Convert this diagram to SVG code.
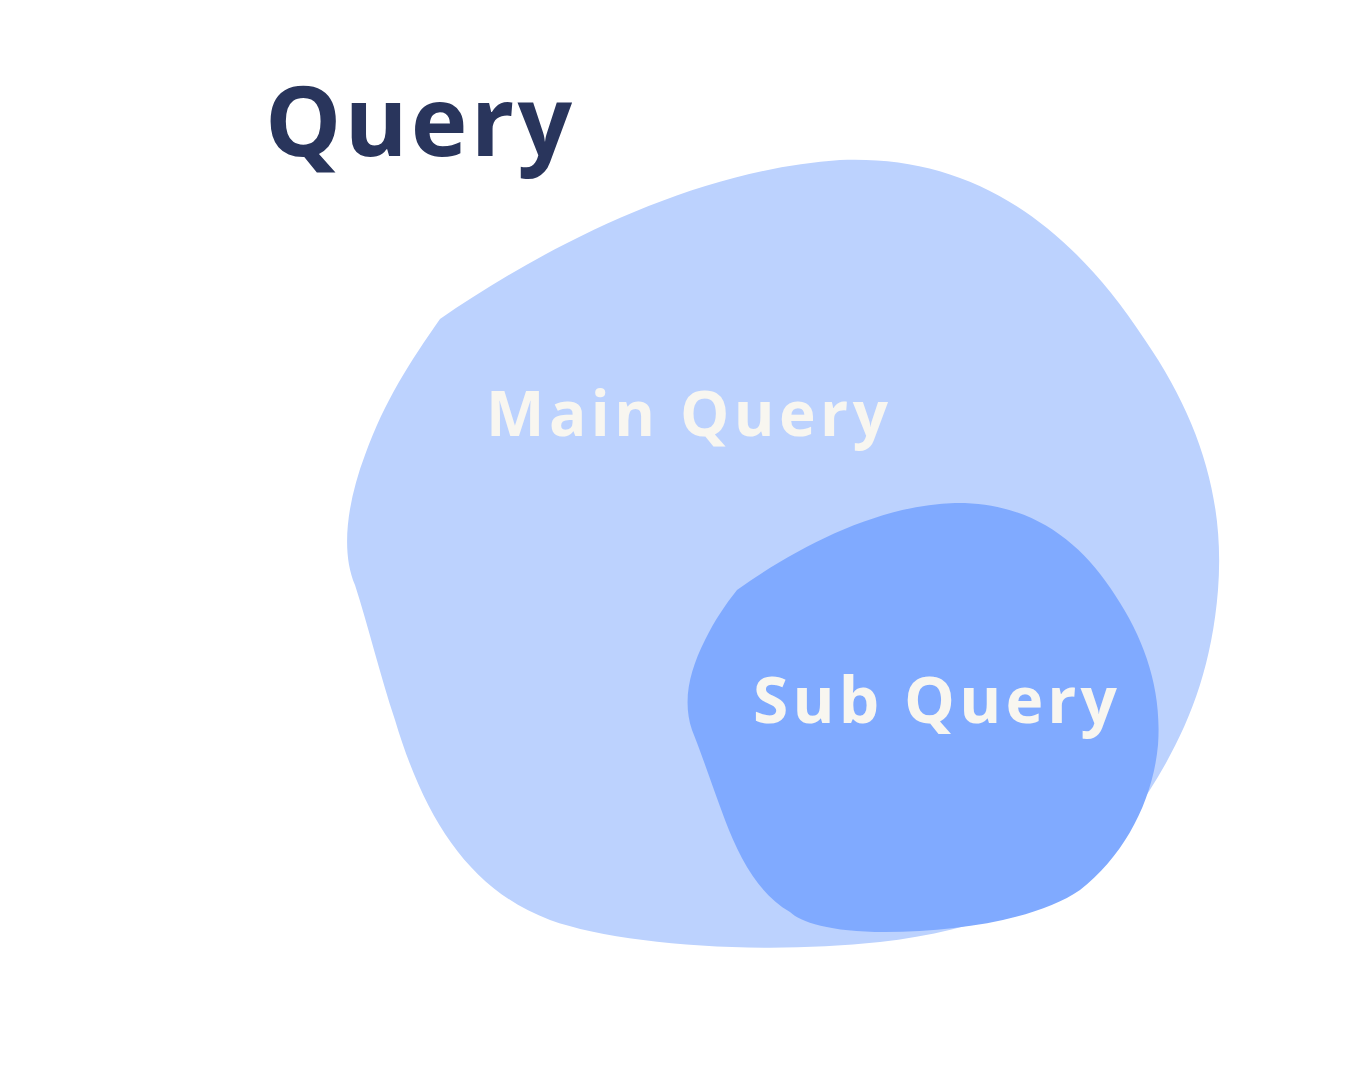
<svg xmlns="http://www.w3.org/2000/svg" width="1370" height="1069" viewBox="0 0 1370 1069">
<style>
.lbl{font-family:"Open Sans","Noto Sans","Liberation Sans",sans-serif;font-weight:700}
.title{fill:#29355c}
.light{fill:#f8f6f0}
</style>
<rect width="1370" height="1069" fill="#ffffff"/>
<g id="main-query">
<path d="M440,319 C540,250 690,170 840,160 C960,155 1060,210 1145,340 C1200,420 1225,500 1218,590 C1210,690 1175,755 1130,820 C1070,900 980,930 880,942 C760,955 620,945 550,920 C470,890 425,820 395,720 C380,675 368,625 355,585 C340,550 348,500 365,455 C385,400 410,362 440,319 Z" fill="#bcd2fe"/>
<text class="lbl light" x="486" y="436" font-size="62" textLength="402" lengthAdjust="spacing">Main Query</text>
</g>
<g id="sub-query">
<path d="M737,590 C800,545 880,505 955,503 C1030,502 1080,540 1115,595 C1145,640 1162,690 1158,745 C1153,800 1125,855 1080,890 C1040,918 960,932 885,932 C830,932 800,922 790,912 C760,895 740,860 725,820 C712,785 702,755 692,730 C682,700 690,670 705,640 C715,620 725,605 737,590 Z" fill="#80aaff"/>
<text class="lbl light" x="753" y="723" font-size="64" textLength="364" lengthAdjust="spacing">Sub Query</text>
</g>
<g id="title">
<text class="lbl title" x="265" y="156" font-size="96" textLength="307" lengthAdjust="spacing">Query</text>
</g>
<g id="connectors"></g>
</svg>
